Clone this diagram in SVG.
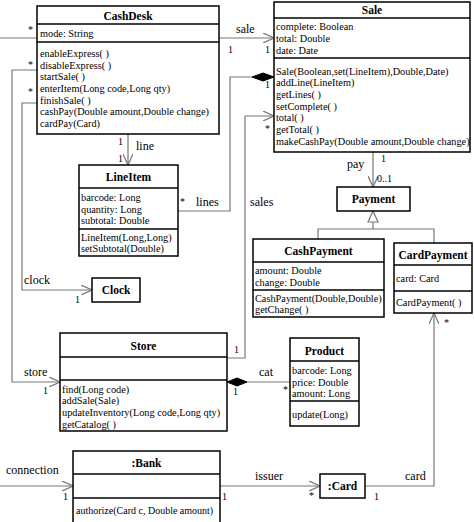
<svg xmlns="http://www.w3.org/2000/svg" width="474" height="522" viewBox="0 0 474 522" font-family="Liberation Serif, serif">
<defs>
<style>
.box{fill:#fff;stroke:#000;stroke-width:1.5}
.sep{stroke:#000;stroke-width:1.5}
.t{font-size:10.3px;fill:#000}
.n{font-size:11.5px;font-weight:bold;fill:#000;text-anchor:middle}
.c{fill:none;stroke:#777;stroke-width:1.2}
.l{font-size:12px;fill:#000}
.m{font-size:10px;fill:#000}
</style>
<marker id="open" viewBox="0 0 12 10" refX="11" refY="5" markerWidth="12" markerHeight="10" markerUnits="userSpaceOnUse" orient="auto">
<path d="M0,0 L11,5 L0,10" fill="none" stroke="#777" stroke-width="1.2"/>
</marker>
</defs>
<rect width="474" height="522" fill="#fff"/>

<g id="connectors">
<line class="c" x1="0" y1="38" x2="37" y2="38"/>
<line class="c" x1="219" y1="38" x2="274" y2="38" marker-end="url(#open)"/>
<line class="c" x1="128" y1="134" x2="128" y2="165" marker-end="url(#open)"/>
<polyline class="c" points="178,211 230,211 230,77 252,77"/>
<polygon points="252,77 263,73 274,77 263,81" fill="#000" stroke="#000"/>
<polyline class="c" points="37,103 22,103 22,290 92,290" marker-end="url(#open)"/>
<polyline class="c" points="37,70 12,70 12,382 60,382" marker-end="url(#open)"/>
<polyline class="c" points="227,358 245,358 245,116 274,116" marker-end="url(#open)"/>
<line class="c" x1="373" y1="152" x2="373" y2="187" marker-end="url(#open)"/>
<polyline class="c" points="373,222 373,229"/>
<polyline class="c" points="318,239 318,229 434,229 434,243"/>
<polygon points="373,211 368,222 378,222" fill="#fff" stroke="#777" stroke-width="1.2"/>
<line class="c" x1="247" y1="382" x2="290" y2="382"/>
<polygon points="227,382 237,378 247,382 237,386" fill="#000" stroke="#000"/>
<line class="c" x1="0" y1="486" x2="73" y2="486" marker-end="url(#open)"/>
<line class="c" x1="220" y1="486" x2="320" y2="486" marker-end="url(#open)"/>
<polyline class="c" points="365,486 434,486 434,313" marker-end="url(#open)"/>

<text class="m" x="28" y="33">*</text>
<text class="l" x="236" y="33">sale</text>
<text class="m" x="228" y="53">1</text>
<text class="m" x="265" y="53">1</text>
<text class="m" x="118" y="145">1</text>
<text class="l" x="136" y="150">line</text>
<text class="m" x="118" y="162">1</text>
<text class="m" x="180" y="205">*</text>
<text class="l" x="196" y="206">lines</text>
<text class="m" x="265" y="88">1</text>
<text class="m" x="28" y="95">*</text>
<text class="l" x="24" y="284">clock</text>
<text class="m" x="75" y="303">1</text>
<text class="m" x="28" y="68">*</text>
<text class="l" x="24" y="376">store</text>
<text class="m" x="43" y="394">1</text>
<text class="l" x="250" y="206">sales</text>
<text class="m" x="234" y="353">1</text>
<text class="m" x="265" y="132">*</text>
<text class="m" x="381" y="162">1</text>
<text class="l" x="347" y="168">pay</text>
<text class="m" x="377" y="182">0..1</text>
<text class="l" x="259" y="376">cat</text>
<text class="m" x="233" y="395">1</text>
<text class="m" x="283" y="393">*</text>
<text class="l" x="6" y="474">connection</text>
<text class="m" x="63" y="500">1</text>
<text class="l" x="255" y="480">issuer</text>
<text class="m" x="222" y="500">1</text>
<text class="m" x="309" y="499">*</text>
<text class="l" x="405" y="480">card</text>
<text class="m" x="374" y="500">1</text>
<text class="m" x="444" y="326">*</text>
</g>

<g id="CashDesk">
<rect class="box" x="37" y="6" width="182" height="128"/>
<line class="sep" x1="37" y1="24" x2="219" y2="24"/>
<line class="sep" x1="37" y1="42" x2="219" y2="42"/>
<text class="n" x="128" y="20">CashDesk</text>
<text class="t" x="40" y="37">mode: String</text>
<text class="t" x="40" y="57">enableExpress( )</text>
<text class="t" x="40" y="69">disableExpress( )</text>
<text class="t" x="40" y="80">startSale( )</text>
<text class="t" x="40" y="92">enterItem(Long code,Long qty)</text>
<text class="t" x="40" y="104">finishSale( )</text>
<text class="t" x="40" y="115">cashPay(Double amount,Double change)</text>
<text class="t" x="40" y="127">cardPay(Card)</text>
</g>

<g id="Sale">
<rect class="box" x="274" y="2" width="196" height="150"/>
<line class="sep" x1="274" y1="18" x2="470" y2="18"/>
<line class="sep" x1="274" y1="58" x2="470" y2="58"/>
<text class="n" x="372" y="14">Sale</text>
<text class="t" x="276" y="30">complete: Boolean</text>
<text class="t" x="276" y="42">total: Double</text>
<text class="t" x="276" y="54">date: Date</text>
<text class="t" x="276" y="75">Sale(Boolean,set(LineItem),Double,Date)</text>
<text class="t" x="276" y="86">addLine(LineItem)</text>
<text class="t" x="276" y="98">getLines( )</text>
<text class="t" x="276" y="110">setComplete( )</text>
<text class="t" x="276" y="121">total( )</text>
<text class="t" x="276" y="133">getTotal( )</text>
<text class="t" x="276" y="145">makeCashPay(Double amount,Double change)</text>
</g>

<g id="LineItem">
<rect class="box" x="79" y="165" width="99" height="91"/>
<line class="sep" x1="79" y1="188" x2="178" y2="188"/>
<line class="sep" x1="79" y1="229" x2="178" y2="229"/>
<text class="n" x="128.5" y="181">LineItem</text>
<text class="t" x="81" y="201">barcode: Long</text>
<text class="t" x="81" y="213">quantity: Long</text>
<text class="t" x="81" y="224">subtotal: Double</text>
<text class="t" x="81" y="241">LineItem(Long,Long)</text>
<text class="t" x="81" y="252">setSubtotal(Double)</text>
</g>

<g id="Clock">
<rect class="box" x="92" y="278" width="48" height="24"/>
<text class="n" x="116" y="294">Clock</text>
</g>

<g id="Payment">
<rect class="box" x="337" y="187" width="73" height="24"/>
<text class="n" x="373.5" y="203">Payment</text>
</g>

<g id="CashPayment">
<rect class="box" x="253" y="239" width="131" height="78"/>
<line class="sep" x1="253" y1="262" x2="384" y2="262"/>
<line class="sep" x1="253" y1="290" x2="384" y2="290"/>
<text class="n" x="318.5" y="255">CashPayment</text>
<text class="t" x="255" y="274">amount: Double</text>
<text class="t" x="255" y="286">change: Double</text>
<text class="t" x="255" y="302">CashPayment(Double,Double)</text>
<text class="t" x="255" y="313">getChange( )</text>
</g>

<g id="CardPayment">
<rect class="box" x="394" y="243" width="78" height="70"/>
<line class="sep" x1="394" y1="265" x2="472" y2="265"/>
<line class="sep" x1="394" y1="291" x2="472" y2="291"/>
<text class="n" x="433" y="259">CardPayment</text>
<text class="t" x="396" y="282">card: Card</text>
<text class="t" x="396" y="306">CardPayment( )</text>
</g>

<g id="Store">
<rect class="box" x="60" y="333" width="167" height="98"/>
<line class="sep" x1="60" y1="357" x2="227" y2="357"/>
<line class="sep" x1="60" y1="380" x2="227" y2="380"/>
<text class="n" x="143.5" y="350">Store</text>
<text class="t" x="62" y="393">find(Long code)</text>
<text class="t" x="62" y="404">addSale(Sale)</text>
<text class="t" x="62" y="416">updateInventory(Long code,Long qty)</text>
<text class="t" x="62" y="428">getCatalog( )</text>
</g>

<g id="Product">
<rect class="box" x="290" y="338" width="69" height="88"/>
<line class="sep" x1="290" y1="361" x2="359" y2="361"/>
<line class="sep" x1="290" y1="401" x2="359" y2="401"/>
<text class="n" x="324.5" y="355">Product</text>
<text class="t" x="292" y="374">barcode: Long</text>
<text class="t" x="292" y="386">price: Double</text>
<text class="t" x="292" y="397">amount: Long</text>
<text class="t" x="292" y="418">update(Long)</text>
</g>

<g id="Bank">
<rect class="box" x="73" y="451" width="147" height="80"/>
<line class="sep" x1="73" y1="474" x2="220" y2="474"/>
<line class="sep" x1="73" y1="498" x2="220" y2="498"/>
<text class="n" x="146.5" y="467">:Bank</text>
<text class="t" x="76" y="514" style="font-size:10px">authorize(Card c, Double amount)</text>
</g>

<g id="Card">
<rect class="box" x="320" y="474" width="45" height="24"/>
<text class="n" x="342.5" y="490">:Card</text>
</g>
</svg>
